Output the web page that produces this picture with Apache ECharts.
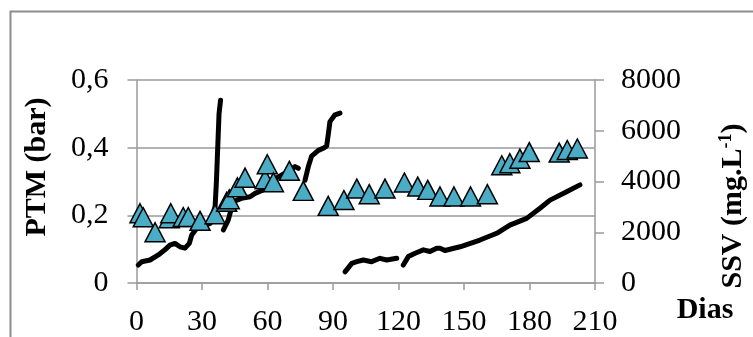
<!DOCTYPE html>
<html>
<head>
<meta charset="utf-8">
<script src="https://cdn.jsdelivr.net/npm/echarts@6/dist/echarts.min.js"></script>
<style>
html,body{margin:0;padding:0;background:#fff;}
#chart{width:753px;height:337px;}
</style>
</head>
<body>
<div id="chart"></div>
<script>
// PTM (bar) line, segments separated by null
var ptmDays = [0.8,2.4,6.2,10,13,15.3,17.6,19.9,22.2,24.2,25.3,27.6,31,33.7,36,36.6,37.2,37.8,38.5,null,
  39.8,42,44.3,48,52,54.3,58,60.4,64,68,72.6,74.1,null,
  77.2,78.7,80.2,83.3,86,87.1,87.9,88.6,90.9,93.2,null,
  95.5,98.6,100.9,103.9,107.7,111.5,114.6,119.2,null,
  122.2,124.5,127.6,131.4,134.4,137.5,139,141.3,148.2,157.3,165,171,178.7,184.8,189.4,197,203.1];
var ptmValues = [0.053,0.063,0.068,0.083,0.098,0.112,0.117,0.107,0.103,0.117,0.142,0.162,0.17,0.176,0.226,0.3,0.4,0.5,0.54,null,
  0.157,0.186,0.24,0.25,0.255,0.265,0.275,0.3,0.31,0.325,0.344,0.339,null,
  0.304,0.344,0.375,0.392,0.4,0.405,0.442,0.477,0.497,0.502,null,
  0.033,0.058,0.063,0.068,0.063,0.073,0.068,0.073,null,
  0.053,0.078,0.088,0.098,0.093,0.103,0.103,0.096,0.107,0.127,0.147,0.171,0.191,0.221,0.245,0.27,0.29];
// SSV (mg/L) triangles
var ssvDays = [1.6,3.1,8.5,15,15.7,21.4,23.7,29.1,36,41.3,42.5,46.2,49.7,58.9,59.9,62.7,70,76.4,87.8,95,100.9,106.6,113.8,122.7,128.8,133.4,139,145.4,153,160.7,167.3,171,175.6,179.9,193.6,197.3,201.9];
var ssvValues = [2750,2590,2000,2550,2750,2600,2600,2450,2710,3200,3300,3770,4150,4090,4680,3970,4420,3630,3040,3270,3720,3500,3720,3960,3800,3670,3410,3410,3410,3500,4640,4720,4900,5160,5140,5240,5300];
// tick labels
var xTicks = {min:0, max:210, interval:30};
var yLeftTicks = {min:0, max:0.6, interval:0.2};
var yRightTicks = {min:0, max:8000, interval:2000};

var ptmData = ptmDays.map(function(d,i){ return d===null ? [null,null] : [d, ptmValues[i]]; });
var ssvData = ssvDays.map(function(d,i){ return [d, ssvValues[i]]; });

var FONT = '"Liberation Serif","Times New Roman",serif';
var gridColor = '#9a9a9a';
var chart = echarts.init(document.getElementById('chart'), null, {renderer:'canvas'});
chart.setOption({
  animation:false,
  backgroundColor:'#fff',
  grid:{left:136.5, right:158, top:80, bottom:54, containLabel:false},
  xAxis:{type:'value', min:xTicks.min, max:xTicks.max, interval:xTicks.interval,
    axisLine:{lineStyle:{color:gridColor, width:1.5}},
    axisTick:{show:true, length:7, lineStyle:{color:gridColor, width:1.5}},
    axisLabel:{color:'#000', fontFamily:FONT, fontSize:30, margin:24},
    splitLine:{show:false}},
  yAxis:[
    {type:'value', min:yLeftTicks.min, max:yLeftTicks.max, interval:yLeftTicks.interval, position:'left',
      axisLine:{show:true, lineStyle:{color:gridColor, width:1.5}},
      axisTick:{show:true, length:9, lineStyle:{color:gridColor, width:1.5}},
      axisLabel:{color:'#000', fontFamily:FONT, fontSize:30, margin:28,
        formatter:function(v){ return (Math.round(v*10)/10).toString().replace('.',','); }},
      splitLine:{show:true, lineStyle:{color:gridColor, width:1.5}}},
    {type:'value', min:yRightTicks.min, max:yRightTicks.max, interval:yRightTicks.interval, position:'right',
      axisLine:{show:true, lineStyle:{color:gridColor, width:1.5}},
      axisTick:{show:true, length:9, lineStyle:{color:gridColor, width:1.5}},
      axisLabel:{color:'#000', fontFamily:FONT, fontSize:30, margin:26,
        formatter:function(v){ return String(Math.round(v)); }},
      splitLine:{show:false}}
  ],
  series:[
    {type:'line', yAxisIndex:0, data:ptmData, showSymbol:false, symbol:'none', connectNulls:false,
      lineStyle:{color:'#000', width:5, cap:'round', join:'round'}, z:2},
    {type:'scatter', yAxisIndex:1, data:ssvData, symbol:'triangle', symbolSize:[20,19],
      itemStyle:{color:'#4bacc6', borderColor:'#000', borderWidth:1.5, opacity:1}, z:3}
  ],
  graphic:[
    {type:'rect', left:8, top:9, shape:{width:800, height:400}, style:{fill:'none', stroke:'#8c8c8c', lineWidth:2}, z:-10, silent:true},
    {type:'text', x:37, y:167, rotation:Math.PI/2,
      style:{text:'PTM (bar)', font:'bold 30px '+FONT, fill:'#000', align:'center', verticalAlign:'middle'}},
    {type:'text', x:733, y:206, rotation:Math.PI/2,
      style:{text:'{a|SSV (mg.L}{s|-1}{a|)}', align:'center', verticalAlign:'middle',
        rich:{a:{font:'bold 30px '+FONT, fill:'#000', lineHeight:30},
              s:{font:'bold 18px '+FONT, fill:'#000', lineHeight:30, padding:[0,0,14,0]}}}},
    {type:'text', x:705, y:310,
      style:{text:'Dias', font:'bold 30px '+FONT, fill:'#000', align:'center', verticalAlign:'middle'}}
  ]
});
</script>
</body>
</html>
